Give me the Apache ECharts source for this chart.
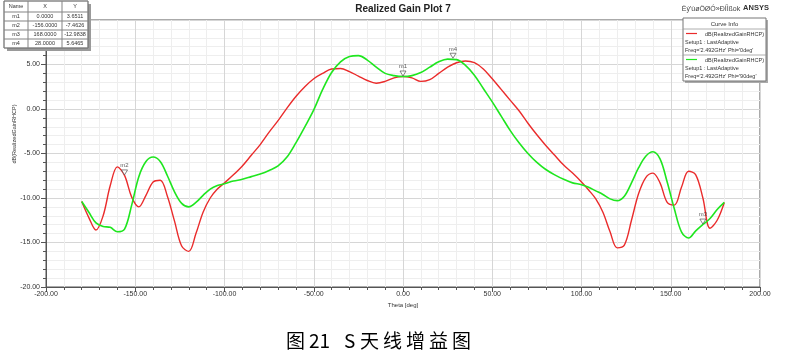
<!DOCTYPE html>
<html><head><meta charset="utf-8">
<script src="https://cdn.jsdelivr.net/npm/echarts@6/dist/echarts.min.js"></script>
<style>html,body{margin:0;padding:0;background:#fff}#c{width:787px;height:359px}</style>
</head><body><div id="c"></div>
<script>
// ---- data ----
const theta = [-180,-176,-172,-168,-164,-160,-156,-152,-148,-144,-140,-136,-132,-128,-124,-120,-116,-112,-108,-104,-100,-95,-90,-85,-80,-75,-70,-65,-60,-55,-50,-45,-40,-35,-30,-25,-20,-15,-10,-5,0,5,10,15,20,25,30,35,40,45,50,55,60,65,70,75,80,85,90,95,100,104,108,112,116,120,124,128,132,136,140,144,148,152,156,160,164,168,172,176,180];
const gainPhi0 = [-10.4,-12.2,-13.6,-12.0,-8.6,-6.5,-7.46,-9.9,-11.0,-9.7,-8.2,-8.0,-9.8,-12.6,-15.4,-16.0,-14.0,-11.6,-10.0,-9.0,-8.3,-7.4,-6.4,-5.2,-4.0,-2.6,-1.3,0.1,1.4,2.5,3.4,4.0,4.5,4.55,4.2,3.7,3.2,2.9,3.1,3.5,3.65,3.5,3.1,3.3,4.0,4.7,5.2,5.4,5.2,4.5,3.4,2.2,1.0,-0.2,-1.6,-2.9,-4.1,-5.2,-6.3,-7.2,-8.2,-9.1,-10.1,-11.6,-13.8,-15.6,-15.3,-12.5,-9.5,-7.7,-7.2,-8.3,-10.5,-10.8,-8.8,-7.0,-7.4,-10.0,-13.4,-12.5,-10.5];
const gainPhi90 = [-10.4,-11.6,-12.8,-13.2,-13.3,-13.8,-13.5,-10.8,-7.6,-5.9,-5.4,-5.9,-7.5,-9.3,-10.6,-11.0,-10.5,-9.7,-9.0,-8.6,-8.4,-8.1,-7.9,-7.6,-7.3,-6.9,-6.4,-5.4,-3.8,-2.0,-0.1,2.2,4.1,5.3,5.9,6.0,5.5,4.7,4.0,3.75,3.65,3.75,4.1,4.7,5.3,5.6,5.55,4.9,3.8,2.3,0.8,-0.8,-2.4,-3.8,-5.0,-6.0,-6.8,-7.4,-7.9,-8.3,-8.5,-8.8,-9.2,-9.6,-10.1,-10.3,-9.8,-8.3,-6.6,-5.3,-4.8,-5.6,-8.2,-11.2,-13.8,-14.5,-13.7,-12.98,-12.3,-11.3,-10.5];
const markerNames = ['m1','m2','m3','m4'];
const markerX = [0.0,-156.0,168.0,28.0];
const markerY = [3.6511,-7.4626,-12.9838,5.6465];
const seriesNames = ['dB(RealizedGainRHCP)','dB(RealizedGainRHCP)'];
const seriesSetup = ['Setup1 : LastAdaptive','Setup1 : LastAdaptive'];
const seriesFreq = ["Freq='2.492GHz' Phi='0deg'","Freq='2.492GHz' Phi='90deg'"];
const seriesColors = ['#ea2b2b','#1fe61f'];

const FONT = 'Liberation Sans, Arial, sans-serif';
const chart = echarts.init(document.getElementById('c'), null, {renderer:'canvas'});

// marker table graphic
const tbl = [];
const tx = 4, ty = 1, colW = [24,34,26], rowH = [11,9,9,9,9];
const W = colW[0]+colW[1]+colW[2], H = rowH.reduce((a,b)=>a+b,0);
tbl.push({type:'rect', shape:{x:tx+3,y:ty+3,width:W,height:H}, style:{fill:'#9a9a9a'}, z:100});
tbl.push({type:'rect', shape:{x:tx,y:ty,width:W,height:H}, style:{fill:'#fff',stroke:'#666',lineWidth:1}, z:101});
const rows = [['Name','X','Y']].concat(markerNames.map((n,i)=>[n, markerX[i].toFixed(4), markerY[i].toFixed(4)]));
let yy = ty;
rows.forEach((r,ri)=>{
  let xx = tx;
  r.forEach((c,ci)=>{
    tbl.push({type:'rect', shape:{x:xx,y:yy,width:colW[ci],height:rowH[ri]}, style:{fill:'none',stroke:'#888',lineWidth:0.6}, z:102});
    tbl.push({type:'text', x:xx+colW[ci]/2, y:yy+rowH[ri]/2, style:{text:c, fill:'#333', font:'5.5px '+FONT, textAlign:'center', textVerticalAlign:'middle'}, z:103});
    xx += colW[ci];
  });
  yy += rowH[ri];
});

// legend box
const lg = [];
const lx = 683, ly = 18, lw = 83, lh = 63;
lg.push({type:'rect', shape:{x:lx+2,y:ly+2,width:lw,height:lh}, style:{fill:'#aaa'}, z:100});
lg.push({type:'rect', shape:{x:lx,y:ly,width:lw,height:lh}, style:{fill:'#fff',stroke:'#777',lineWidth:1}, z:101});
lg.push({type:'text', x:lx+lw/2, y:ly+6, style:{text:'Curve Info', fill:'#333', font:'6px '+FONT, textAlign:'center', textVerticalAlign:'middle'}, z:102});
lg.push({type:'line', shape:{x1:lx,y1:ly+11,x2:lx+lw,y2:ly+11}, style:{stroke:'#999',lineWidth:0.8}, z:102});
[0,1].forEach(i=>{
  const by = ly + 12 + i*26;
  if (i===1) lg.push({type:'line', shape:{x1:lx,y1:by-1,x2:lx+lw,y2:by-1}, style:{stroke:'#999',lineWidth:0.8}, z:102});
  lg.push({type:'line', shape:{x1:lx+3,y1:by+3.5,x2:lx+14,y2:by+3.5}, style:{stroke:seriesColors[i],lineWidth:1.2}, z:102});
  lg.push({type:'text', x:lx+lw-2, y:by+4, style:{text:seriesNames[i], fill:'#333', font:'5.5px '+FONT, textAlign:'right', textVerticalAlign:'middle'}, z:102});
  lg.push({type:'text', x:lx+2, y:by+12, style:{text:seriesSetup[i], fill:'#333', font:'5.5px '+FONT, textAlign:'left', textVerticalAlign:'middle'}, z:102});
  lg.push({type:'text', x:lx+2, y:by+20, style:{text:seriesFreq[i], fill:'#333', font:'5.5px '+FONT, textAlign:'left', textVerticalAlign:'middle'}, z:102});
});

// caption pieces
const captionParts = [['图',286],['21',309],['S',344],['天',360],['线',383],['增',406],['益',429],['图',452]];
const cap = captionParts.map(p=>({type:'text', x:p[1], y:341, style:{text:p[0], fill:'#000', font:'19px "Noto Sans CJK SC", sans-serif', textAlign:'left', textVerticalAlign:'middle'}}));

const option = {
  animation:false,
  backgroundColor:'#fff',
  grid:{left:46, right:27, top:20, bottom:72, show:true, borderColor:'#555', borderWidth:1, backgroundColor:'#fff'},
  xAxis:{type:'value', min:-200, max:200, interval:50,
    axisLine:{onZero:false, lineStyle:{color:'#555'}},
    axisTick:{length:5, lineStyle:{color:'#555'}},
    minorTick:{show:true, splitNumber:5, length:3, lineStyle:{color:'#555'}},
    splitLine:{show:true, lineStyle:{color:'#d6d6d6', width:1}},
    minorSplitLine:{show:true, lineStyle:{color:'#eeeeee', width:1}},
    axisLabel:{formatter:v=>v.toFixed(2), fontSize:7, color:'#333', fontFamily:FONT, margin:4, showMaxLabel:true, showMinLabel:true}
  },
  yAxis:{type:'value', min:-20, max:10, interval:5,
    axisLine:{show:true, onZero:false, lineStyle:{color:'#555'}},
    axisTick:{show:true, length:5, lineStyle:{color:'#555'}},
    minorTick:{show:true, splitNumber:5, length:3, lineStyle:{color:'#555'}},
    splitLine:{show:true, lineStyle:{color:'#d6d6d6', width:1}},
    minorSplitLine:{show:true, lineStyle:{color:'#eeeeee', width:1}},
    axisLabel:{formatter:v=>v.toFixed(2), fontSize:7, color:'#333', fontFamily:FONT, margin:6}
  },
  series:[
    {type:'line', name:'phi0', data:theta.map((t,i)=>[t,gainPhi0[i]]), smooth:0.35, symbol:'none', lineStyle:{color:seriesColors[0], width:1.4}, z:3},
    {type:'line', name:'phi90', data:theta.map((t,i)=>[t,gainPhi90[i]]), smooth:0.35, symbol:'none', lineStyle:{color:seriesColors[1], width:1.6}, z:4},
    {type:'scatter', data:markerX.map((x,i)=>({value:[x,markerY[i]], name:markerNames[i]})), symbol:'triangle', symbolRotate:180, symbolSize:[6,5], symbolOffset:[0,-3],
      itemStyle:{color:'#fff', borderColor:'#444', borderWidth:0.8},
      label:{show:true, formatter:p=>p.name, position:'top', distance:1, fontSize:6, color:'#333', fontFamily:FONT}, z:10}
  ],
  graphic:[
    {type:'text', x:403, y:9, style:{text:'Realized Gain Plot 7', fill:'#222', font:'bold 10px '+FONT, textAlign:'center', textVerticalAlign:'middle'}},
    {type:'text', x:711, y:9, style:{text:"Ëý'ùøÖØÓ»ÐÍÌßok", fill:'#444', font:'7px '+FONT, textAlign:'center', textVerticalAlign:'middle'}},
    {type:'text', x:756, y:8, style:{text:'ANSYS', fill:'#333', font:'bold 7.5px '+FONT, textAlign:'center', textVerticalAlign:'middle'}},
    {type:'text', x:14, y:134, rotation:Math.PI/2, style:{text:'dB(RealizedGainRHCP)', fill:'#333', font:'5.5px '+FONT, textAlign:'center', textVerticalAlign:'middle'}},
    {type:'text', x:403, y:305, style:{text:'Theta [deg]', fill:'#333', font:'6px '+FONT, textAlign:'center', textVerticalAlign:'middle'}}
  ].concat(tbl, lg, cap)
};
chart.setOption(option);
</script></body></html>
